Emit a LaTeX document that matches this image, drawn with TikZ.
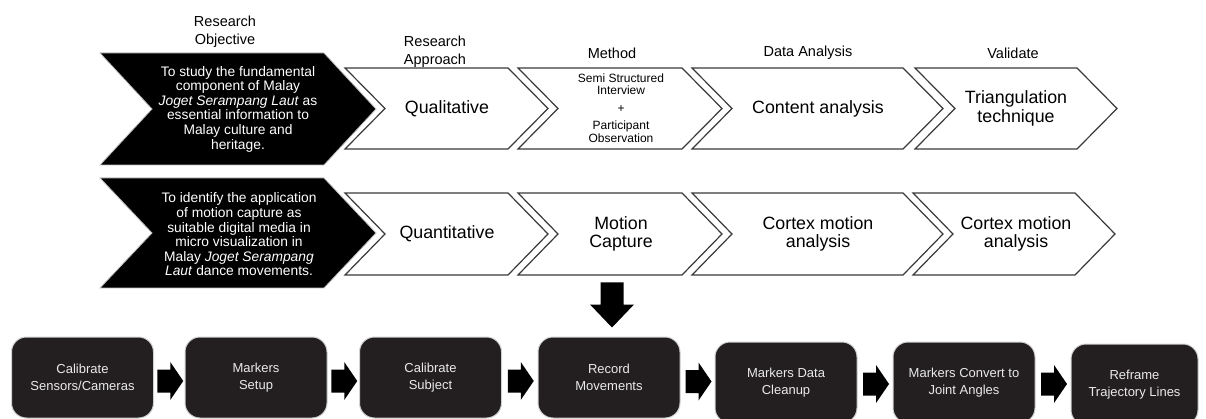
\documentclass[tikz,border=0pt]{standalone}
\usepackage{fontspec}
\setmainfont{Liberation Sans}
\usetikzlibrary{calc}
\definecolor{boxfill}{HTML}{231F20}
\definecolor{edgegray}{HTML}{3A3A3A}
\definecolor{boxtext}{HTML}{EAEAEA}
\tikzset{
  headlabel/.style={font=\fontsize{14.5}{18.5}\selectfont, align=center, inner sep=0},
  objtext/.style={font=\fontsize{13.8}{14.6}\selectfont, text=white, align=center, inner sep=0},
  chevtext/.style={font=\fontsize{17.8}{18.5}\selectfont, align=center, inner sep=0},
  smalltext/.style={font=\fontsize{12}{12.5}\selectfont, align=center, inner sep=0},
  whitechev/.style={fill=white, draw=edgegray, line width=1.2pt, line join=miter},
  blackchev/.style={fill=black, draw=black!25, line width=0.8pt, line join=miter},
  stepbox/.style={rounded corners=15pt, fill=boxfill, draw=black!18, line width=1pt,
    minimum width=142pt, minimum height=81pt, text=boxtext,
    font=\fontsize{13}{17}\selectfont, align=center, inner sep=0},
  blockarrow/.style={fill=black},
}
% style, X0, X1, Y0, Y1, depth
\newcommand\mychev[6]{%
  \draw[#1] (#2,#4) -- (#3,#4) -- ({#3+#6},{(#4+#5)/2}) -- (#3,#5) -- (#2,#5)
    -- ({#2+#6},{(#4+#5)/2}) -- cycle;}
% name, from node, to node, dy
\newcommand\blkarrow[4]{%
  \coordinate (#1) at ($(#2.east)!0.5!(#3.west)$);
  \fill[blockarrow, shift={(#1)}] (-12,{#4-11.5}) -- (1,{#4-11.5}) -- (1,{#4-19})
    -- (14,#4) -- (1,{#4+19}) -- (1,{#4+11.5}) -- (-12,{#4+11.5}) -- cycle;}
\begin{document}
\begin{tikzpicture}[x=1pt,y=-1pt]
\useasboundingbox (0,0) rectangle (1206,419);

% column headings
\node[headlabel] (lab1) at (225,32) {Research\\Objective};
\node[headlabel] (lab2) at (435,52) {Research\\Approach};
\node[headlabel] (lab3) at (612,53) {Method};
\node[headlabel] (lab4) at (808,53) {Data Analysis};
\node[headlabel] (lab5) at (1013,53) {Validate};

% row 1 chevrons
\mychev{blackchev}{100}{324}{53}{165}{52}
\mychev{whitechev}{345}{508}{68}{149}{40}
\mychev{whitechev}{518}{682}{68}{149}{40}
\mychev{whitechev}{692}{903}{68}{149}{40}
\mychev{whitechev}{915}{1077}{68}{149}{40}

% row 2 chevrons
\mychev{blackchev}{100}{324}{178}{288}{52}
\mychev{whitechev}{345}{508}{193}{275}{40}
\mychev{whitechev}{518}{682}{193}{275}{40}
\mychev{whitechev}{692}{903}{193}{275}{40}
\mychev{whitechev}{913}{1075}{193}{275}{40}

% row 1 texts
\node[objtext] (obj1) at (238,109) {To study the fundamental\\component of Malay\\\textit{Joget Serampang Laut} as\\essential information to\\Malay culture and\\heritage.};
\node[chevtext] (app1) at (447,108.5) {Qualitative};
\node[smalltext] (met1) at (621,108) {Semi Structured\\Interview\\[5pt]+\\[5pt]Participant\\Observation};
\node[chevtext] (ana1) at (818,108.5) {Content analysis};
\node[chevtext] (val1) at (1016,108.5) {Triangulation\\technique};

% row 2 texts
\node[objtext] (obj2) at (239,234.5) {To identify the application\\of motion capture as\\suitable digital media in\\micro visualization in\\Malay \textit{Joget Serampang}\\\textit{Laut} dance movements.};
\node[chevtext] (app2) at (447,234) {Quantitative};
\node[chevtext] (met2) at (621,234) {Motion\\Capture};
\node[chevtext] (ana2) at (818,234) {Cortex motion\\analysis};
\node[chevtext] (val2) at (1016,234) {Cortex motion\\analysis};

% process boxes
\node[stepbox] (s1) at (82.5,377.5) {Calibrate\\Sensors/Cameras};
\node[stepbox] (s2) at (256,377.5) {Markers\\Setup};
\node[stepbox] (s3) at (430.5,377.5) {Calibrate\\Subject};
\node[stepbox] (s4) at (609,377.5) {Record\\Movements};
\node[stepbox] (s5) at (786,382.5) {Markers Data\\Cleanup};
\node[stepbox] (s6) at (964,382.5) {Markers Convert to\\Joint Angles};
\node[stepbox, minimum width=127pt] (s7) at (1134.5,384.5) {Reframe\\Trajectory Lines};

% block arrows between boxes
\blkarrow{a12}{s1}{s2}{3.5}
\blkarrow{a23}{s2}{s3}{3.5}
\blkarrow{a34}{s3}{s4}{3.5}
\blkarrow{a45}{s4}{s5}{1.5}
\blkarrow{a56}{s5}{s6}{1.5}
\blkarrow{a67}{s6}{s7}{0.5}

% down arrow from motion capture to record box
\coordinate (dtip) at ($(s4.north)+(3,-9)$);
\fill[blockarrow, shift={(dtip)}] (-11.5,-45) -- (11.5,-45) -- (11.5,-23) -- (22,-23)
  -- (0,0) -- (-22,-23) -- (-11.5,-23) -- cycle;
\end{tikzpicture}
\end{document}
